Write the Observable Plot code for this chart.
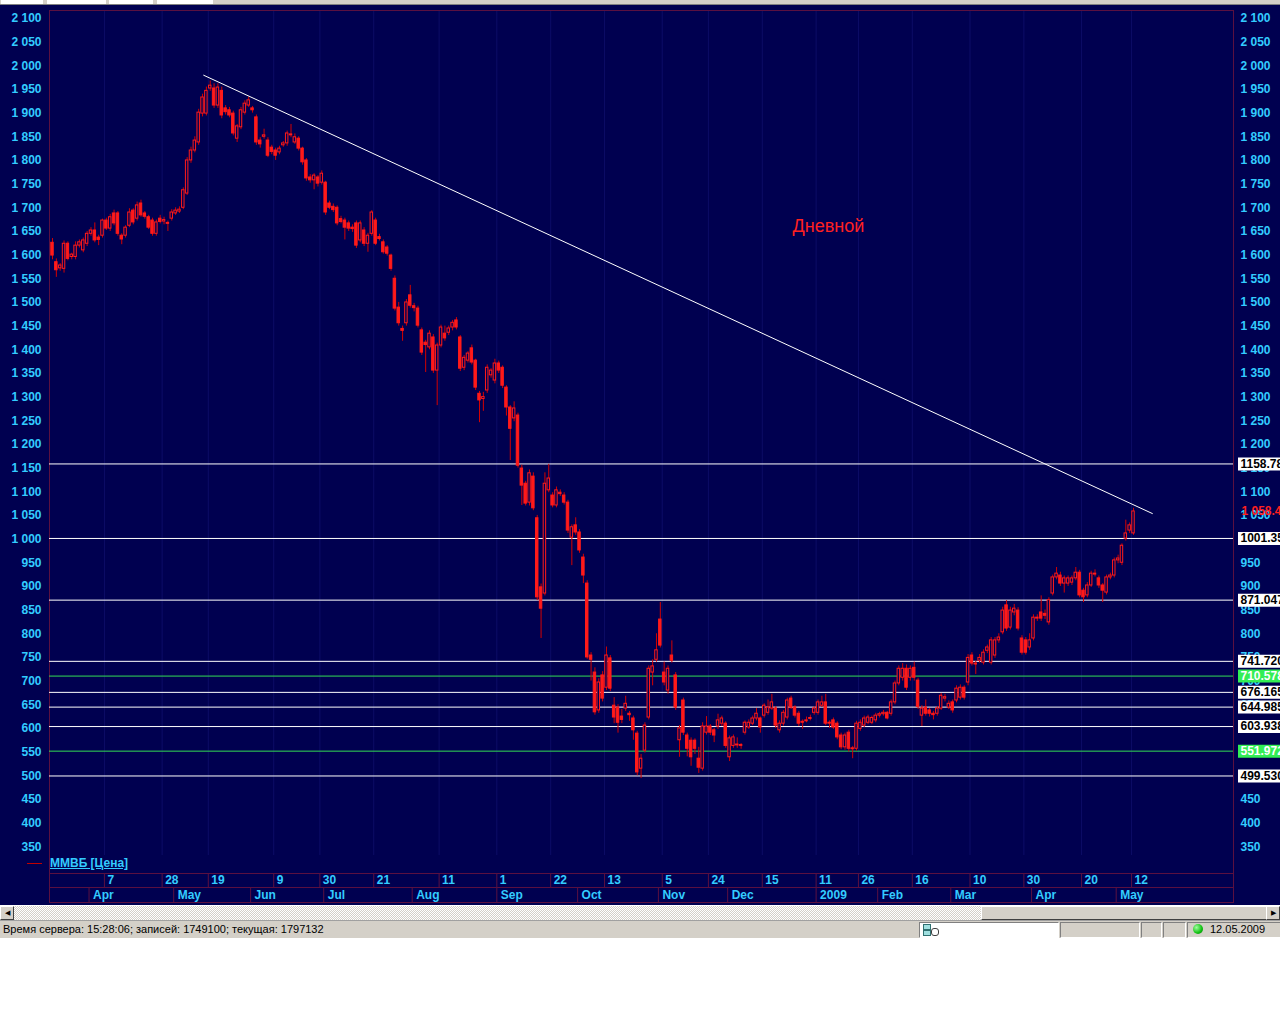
<!DOCTYPE html>
<html><head><meta charset="utf-8">
<script src="https://cdn.jsdelivr.net/npm/d3@7"></script>
<script src="https://cdn.jsdelivr.net/npm/@observablehq/plot@0.6"></script>
<style>
html,body{margin:0;padding:0;background:#fff;overflow:hidden;}
#wrap{position:relative;width:1280px;height:1024px;font-family:"Liberation Sans",Arial,sans-serif;}
#chart{position:absolute;left:0;top:0;}
#chart svg{display:block;}
g[aria-label="yticks"] text, g[aria-label="dayticks"] text, g[aria-label="monthticks"] text, g[aria-label="current"] text{text-decoration:underline;}
#topstrip{position:absolute;left:0;top:0;width:1280px;height:4px;background:#d4d0c8;border-bottom:1px solid #808080;}
#topstrip span{position:absolute;top:0;height:4px;background:#fff;}
#legend{position:absolute;left:27px;top:856px;height:14px;}
#legend .ln{position:absolute;left:0;top:7px;width:15px;height:1px;background:#c00000;}
#legend .tx{position:absolute;left:23px;top:0;color:#33ccff;font:bold 12px "Liberation Sans",Arial,sans-serif;text-decoration:underline;white-space:nowrap;}
#scroll{position:absolute;left:0;top:906px;width:1280px;height:14px;background:repeating-conic-gradient(#d4d0c8 0 25%,#ffffff 0 50%) 0 0/2px 2px;}
.btn{position:absolute;top:0;width:12px;height:12px;background:#d4d0c8;border-top:1px solid #fff;border-left:1px solid #fff;border-bottom:1px solid #404040;border-right:1px solid #404040;font-size:7px;line-height:12px;text-align:center;color:#000;}
#thumb{position:absolute;left:981px;top:0;width:284px;height:12px;background:#d4d0c8;border-top:1px solid #fff;border-left:1px solid #fff;border-bottom:1px solid #404040;border-right:1px solid #404040;}
#status{position:absolute;left:0;top:920px;width:1280px;height:17px;background:#d4d0c8;border-top:1px solid #a0a0a0;font:11px "Liberation Sans",Arial,sans-serif;color:#000;}
#status .t{position:absolute;left:3px;top:2px;white-space:nowrap;}
.pan{position:absolute;top:1px;height:14px;border-left:1px solid #808080;border-top:1px solid #808080;border-right:1px solid #fff;border-bottom:1px solid #fff;}
</style></head>
<body><div id="wrap">
<div id="chart"></div>
<div id="topstrip"><span style="left:1px;width:42px"></span><span style="left:47px;width:59px"></span><span style="left:109px;width:44px"></span><span style="left:157px;width:56px"></span></div>
<div id="legend"><div class="ln"></div><div class="tx">ММВБ [Цена]</div></div>
<div id="scroll"><div class="btn" style="left:0">&#9664;</div><div id="thumb"></div><div class="btn" style="left:1266px">&#9654;</div></div>
<div id="status">
<div class="t">Время сервера: 15:28:06; записей: 1749100; текущая: 1797132</div>
<div class="pan" style="left:919px;width:138px;background:#fff;border-left:1px solid #808080"></div>
<div style="position:absolute;left:922px;top:2px;width:16px;height:13px;">
<div style="position:absolute;left:1px;top:1px;width:6px;height:4px;border:1px solid #307070;background:#a0e0e0"></div>
<div style="position:absolute;left:1px;top:7px;width:6px;height:4px;border:1px solid #307070;background:#a0e0e0"></div>
<div style="position:absolute;left:9px;top:5px;width:6px;height:6px;border:1px solid #404040;border-radius:3px"></div></div>
<div class="pan" style="left:1060px;width:78px"></div>
<div class="pan" style="left:1141px;width:19px"></div>
<div class="pan" style="left:1163px;width:21px"></div>
<div class="pan" style="left:1187px;width:92px"></div>
<div style="position:absolute;left:1193px;top:3px;width:10px;height:10px;border-radius:5px;background:radial-gradient(circle at 35% 35%,#a0ffa0,#10c010 60%,#087008);"></div>
<div style="position:absolute;left:1210px;top:2px;">12.05.2009</div>
</div>
</div>
<script>
// [open, high, low, close] per trading day, Mar 2008 – 12 May 2009
const candles = [
[1626,1635,1590,1599],[1585,1592,1553,1568],[1572,1582,1566,1578],[1571,1630,1562,1624],[1624,1628,1588,1592],
[1596,1604,1590,1601],[1596,1628,1590,1620],[1620,1632,1615,1627],[1610,1636,1605,1631],[1624,1650,1618,1645],
[1645,1658,1640,1652],[1652,1668,1626,1631],[1637,1642,1620,1632],[1641,1676,1636,1673],[1673,1678,1652,1656],
[1656,1686,1650,1680],[1688,1695,1662,1667],[1688,1692,1640,1645],[1641,1645,1622,1633],[1641,1662,1636,1658],
[1662,1698,1658,1690],[1694,1698,1664,1669],[1677,1712,1672,1705],[1709,1716,1680,1684],[1688,1692,1676,1681],
[1680,1684,1654,1658],[1673,1678,1640,1645],[1645,1674,1640,1669],[1677,1684,1666,1670],[1671,1680,1664,1674],
[1668,1672,1650,1666],[1677,1696,1672,1690],[1688,1700,1684,1694],[1692,1702,1688,1696],[1700,1742,1696,1737],
[1730,1806,1726,1800],[1800,1828,1794,1821],[1821,1850,1816,1842],[1838,1908,1832,1901],[1899,1940,1892,1933],
[1899,1955,1894,1947],[1952,1968,1946,1958],[1952,1962,1910,1916],[1916,1962,1910,1954],[1947,1955,1888,1895],
[1910,1916,1896,1902],[1906,1912,1890,1895],[1899,1904,1852,1857],[1846,1876,1838,1872],[1870,1912,1865,1906],
[1901,1926,1896,1920],[1916,1934,1912,1927],[1910,1914,1900,1906],[1891,1896,1832,1838],[1842,1848,1826,1834],
[1850,1866,1845,1853],[1842,1848,1806,1810],[1827,1832,1812,1818],[1821,1826,1800,1810],[1817,1830,1812,1825],
[1832,1840,1828,1836],[1836,1862,1830,1857],[1855,1876,1848,1853],[1838,1856,1834,1849],[1846,1850,1820,1825],
[1825,1828,1790,1796],[1800,1804,1756,1762],[1764,1770,1752,1758],[1758,1772,1738,1768],[1764,1768,1744,1751],
[1753,1778,1748,1772],[1753,1756,1684,1690],[1709,1714,1696,1700],[1702,1708,1690,1695],[1700,1704,1662,1667],
[1676,1682,1666,1670],[1673,1678,1632,1658],[1667,1672,1650,1656],[1658,1664,1648,1655],[1667,1672,1614,1620],
[1631,1672,1626,1667],[1652,1658,1618,1624],[1624,1646,1606,1641],[1645,1694,1640,1690],[1673,1678,1620,1624],
[1638,1644,1630,1634],[1627,1632,1602,1606],[1616,1620,1598,1603],[1599,1602,1566,1571],[1550,1556,1482,1487],
[1489,1500,1450,1456],[1444,1450,1418,1440],[1456,1506,1450,1500],[1515,1536,1488,1493],[1492,1498,1480,1488],
[1487,1492,1446,1451],[1441,1446,1388,1394],[1415,1420,1352,1410],[1405,1440,1400,1434],[1426,1432,1350,1356],
[1356,1414,1282,1409],[1409,1452,1404,1447],[1434,1450,1418,1424],[1436,1450,1430,1445],[1447,1462,1440,1457],
[1462,1468,1442,1447],[1426,1430,1354,1360],[1362,1388,1356,1383],[1377,1396,1372,1392],[1403,1410,1368,1373],
[1377,1380,1314,1320],[1307,1312,1246,1293],[1296,1310,1270,1300],[1314,1368,1308,1362],[1346,1360,1340,1356],
[1335,1380,1328,1371],[1371,1376,1350,1356],[1362,1366,1318,1324],[1320,1324,1260,1278],[1278,1282,1166,1233],
[1255,1290,1248,1276],[1261,1266,1150,1155],[1149,1156,1071,1113],[1117,1122,1070,1075],[1077,1146,1070,1139],
[1132,1140,1060,1065],[1044,1050,870,877],[898,905,790,853],[885,1140,880,1117],[1103,1158,1098,1128],
[1092,1098,1066,1071],[1071,1110,1066,1103],[1098,1104,1090,1095],[1092,1098,1072,1077],[1077,1082,1012,1018],
[1003,1030,944,1025],[1029,1045,1008,1014],[1014,1020,970,976],[961,968,906,923],[906,912,746,750],
[754,760,700,745],[718,728,628,634],[638,705,632,697],[712,720,656,663],[686,772,680,754],
[748,754,678,684],[648,665,610,623],[644,650,590,612],[625,640,610,618],[642,668,636,652],
[631,636,615,628],[621,626,575,596],[589,594,500,507],[515,545,494,536],[553,612,548,606],
[623,732,618,726],[718,745,690,731],[745,800,740,765],[830,866,770,775],[718,740,690,697],
[680,732,672,726],[754,785,738,743],[712,718,638,644],[575,606,539,600],[659,664,585,591],
[585,590,540,557],[574,580,520,539],[574,578,545,557],[536,560,505,517],[515,612,510,604],
[591,625,586,604],[604,608,585,591],[596,600,570,585],[604,630,598,617],[610,626,604,621],
[610,614,558,563],[539,584,530,579],[563,586,558,581],[566,580,558,564],[563,568,556,565],
[591,616,586,612],[602,618,598,612],[610,626,606,621],[621,642,616,631],[621,624,590,602],
[627,652,622,648],[633,660,628,644],[642,672,638,655],[642,646,600,606],[596,616,590,610],
[610,638,605,633],[623,664,618,659],[663,668,640,644],[644,648,622,627],[631,636,604,610],
[614,618,598,612],[615,624,612,617],[620,628,616,622],[633,646,628,642],[633,660,628,655],
[648,668,644,655],[655,672,606,610],[612,616,600,610],[617,622,598,602],[610,614,576,581],
[585,590,555,560],[560,590,554,585],[591,596,550,557],[558,562,536,556],[557,615,552,610],
[599,618,594,612],[606,626,602,621],[612,628,608,623],[612,626,608,622],[617,632,612,627],
[627,634,622,630],[630,638,626,633],[633,636,618,621],[631,660,626,655],[655,700,650,695],
[695,732,690,726],[707,737,700,726],[726,734,680,686],[707,732,700,726],[728,740,700,707],
[701,706,640,645],[627,648,604,642],[644,660,626,631],[638,642,624,631],[631,636,618,628],
[631,646,626,642],[642,674,638,669],[663,672,656,666],[644,658,640,652],[655,660,632,638],
[659,690,654,684],[665,692,660,686],[686,690,660,665],[697,756,690,749],[754,760,732,737],
[737,742,714,735],[743,756,738,749],[739,766,734,760],[764,776,758,771],[739,792,734,786],
[754,792,748,786],[786,800,780,792],[803,856,798,849],[860,870,805,811],[813,856,808,849],
[845,862,838,853],[849,855,806,811],[790,796,755,760],[786,792,755,760],[771,800,765,786],
[790,840,785,834],[832,840,826,834],[845,880,826,832],[842,850,830,838],[824,876,818,871],
[885,924,880,919],[919,940,914,927],[923,930,900,906],[906,922,886,917],[906,922,900,917],
[908,922,902,917],[917,940,912,929],[929,934,876,881],[891,896,866,877],[881,908,876,902],
[902,932,898,927],[925,935,920,927],[917,922,896,902],[902,906,866,891],[887,924,882,919],
[919,928,914,923],[923,960,918,955],[955,966,948,959],[950,990,944,986],[1001,1040,996,1012],
[1018,1034,1012,1029],[1012,1065,1008,1058.4]
];
const yTicks = [350,400,450,500,550,600,650,700,750,800,850,900,950,1000,1050,1100,1150,1200,1250,1300,1350,1400,1450,1500,1550,1600,1650,1700,1750,1800,1850,1900,1950,2000,2050,2100];
const dayTickIdx = [14,29,41,58,70,84,101,116,130,144,159,171,185,199,210,224,239,253,268,281];
const dayTickLabels = ["7","28","19","9","30","21","11","1","22","13","5","24","15","11","26","16","10","30","20","12"];
const monthTickIdx = [10,32,52,71,94,116,137,158,176,199,215,234,255,277];
const monthTickLabels = ["Apr","May","Jun","Jul","Aug","Sep","Oct","Nov","Dec","2009","Feb","Mar","Apr","May"];
const whiteLevels = [1158.78,1001.35,871.047,741.72,676.165,644.985,603.938,499.53];
const greenLevels = [710.578,551.972];
const currentPrice = [1058.4];
const trendLine = [{i:39.3,p:1980},{i:285.9,p:1054}];
const annotation = [{i:201.7,p:1660,text:"Дневной"}];

const data = candles.map(([o,h,l,c],i)=>({i,o,h,l,c,up:c>=o}));
const N = data.length;
const step = (1133-52)/(N-1);
const xDomain = [(49-52)/step, (1233-52)/step];
const dayTicks = dayTickIdx.map((i,k)=>({i,label:dayTickLabels[k]}));
const monthTicks = monthTickIdx.map((i,k)=>({i,label:monthTickLabels[k]}));
const fmt = v => v>=1000 ? Math.floor(v/1000)+" "+String(Math.round(v%1000)).padStart(3,"0") : String(v);
const fmtCur = v => Math.floor(v/1000)+" "+(v%1000).toFixed(1).padStart(5,"0");
const cyan = "#33ccff", maroon = "#5a1040", navy = "#000050", red = "#ff1a1a";
const font = "Liberation Sans, Arial, sans-serif";

const chart = Plot.plot({
  width:1280, height:905, marginLeft:49, marginRight:47, marginTop:10, marginBottom:50,
  x:{domain:xDomain, axis:null},
  y:{domain:[331.5,2116.8], axis:null},
  style:{background:navy, fontFamily:font, fontSize:"12px", overflow:"hidden"},
  marks:[
    Plot.ruleX(dayTicks,{x:d=>d.i-0.5, stroke:"#0c0c66"}),
    Plot.frame({stroke:maroon, insetBottom:-18}),
    Plot.frame({stroke:maroon, insetTop:863, insetBottom:-47}),
    Plot.frame({stroke:maroon, insetTop:877, insetBottom:-47}),
    Plot.ruleX(dayTicks,{x:d=>d.i-0.5, insetTop:863, insetBottom:-32, stroke:maroon}),
    Plot.ruleX(monthTicks,{x:d=>d.i-0.5, insetTop:877, insetBottom:-47, stroke:maroon}),
    Plot.text(dayTicks,{x:d=>d.i-0.5, frameAnchor:"bottom", dy:28, dx:3, text:"label", textAnchor:"start", fill:cyan, fontWeight:"bold", fontSize:12, fontFamily:font, ariaLabel:"dayticks"}),
    Plot.text(monthTicks,{x:d=>d.i-0.5, frameAnchor:"bottom", dy:43, dx:4, text:"label", textAnchor:"start", fill:cyan, fontWeight:"bold", fontSize:12, fontFamily:font, ariaLabel:"monthticks"}),
    Plot.text(yTicks,{y:d=>d, frameAnchor:"left", dx:-8, textAnchor:"end", text:fmt, fill:cyan, fontWeight:"bold", fontSize:12, fontFamily:font, ariaLabel:"yticks"}),
    Plot.text(yTicks,{y:d=>d, frameAnchor:"right", dx:7, textAnchor:"start", text:fmt, fill:cyan, fontWeight:"bold", fontSize:12, fontFamily:font, ariaLabel:"yticks"}),
    Plot.ruleY(whiteLevels,{y:d=>d, stroke:"#ffffff"}),
    Plot.ruleY(greenLevels,{y:d=>d, stroke:"#33dd55"}),
    Plot.ruleX(data,{x:"i", y1:"l", y2:"h", stroke:"#d40000"}),
    Plot.rect(data.filter(d=>!d.up),{x1:d=>d.i-0.32, x2:d=>d.i+0.32, y1:"o", y2:"c", fill:red, stroke:red}),
    Plot.rect(data.filter(d=>d.up),{x1:d=>d.i-0.32, x2:d=>d.i+0.32, y1:"o", y2:"c", fill:navy, stroke:red}),
    Plot.line(trendLine,{x:"i", y:"p", stroke:"#ffffff", strokeWidth:1}),
    Plot.ruleY(whiteLevels,{y:d=>d, stroke:"#ffffff", strokeWidth:13, insetLeft:1189, insetRight:-47}),
    Plot.ruleY(greenLevels,{y:d=>d, stroke:"#33ee55", strokeWidth:13, insetLeft:1189, insetRight:-47}),
    Plot.text(whiteLevels,{y:d=>d, frameAnchor:"right", dx:7, textAnchor:"start", text:d=>d.toFixed(3), fill:"#000", fontWeight:"bold", fontSize:12, fontFamily:font}),
    Plot.text(greenLevels,{y:d=>d, frameAnchor:"right", dx:7, textAnchor:"start", text:d=>d.toFixed(3), fill:"#fff", fontWeight:"bold", fontSize:12, fontFamily:font}),
    Plot.text(currentPrice,{y:d=>d, frameAnchor:"right", dx:8, textAnchor:"start", text:fmtCur, fill:"#ff2020", fontWeight:"bold", fontSize:12, fontFamily:font, ariaLabel:"current"}),
    Plot.text(annotation,{x:"i", y:"p", text:"text", fill:"#ff2020", fontSize:18, fontFamily:font})
  ]
});
document.getElementById("chart").appendChild(chart);
</script>
</body></html>
